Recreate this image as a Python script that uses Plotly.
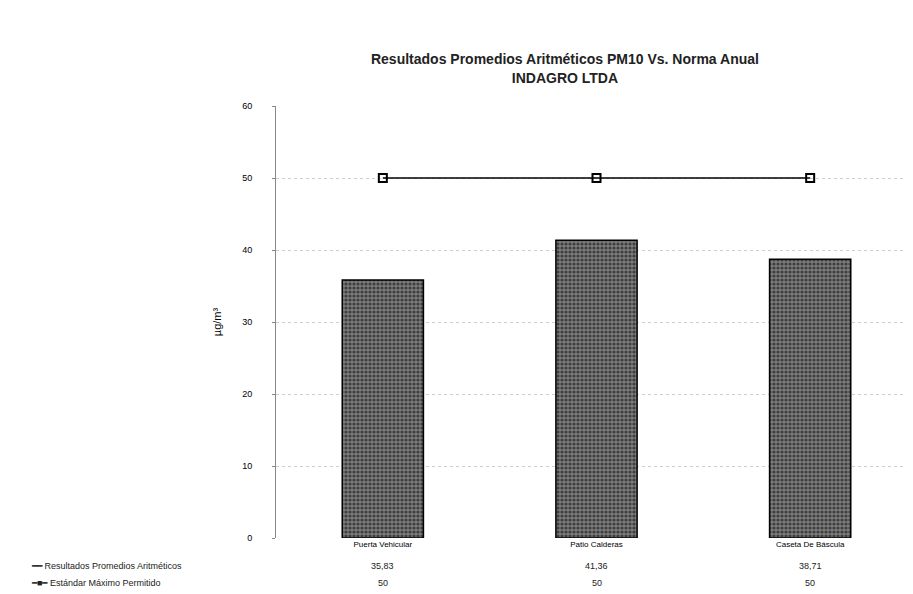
import plotly.graph_objects as go

estaciones = ["Puerta Vehicular", "Patio Calderas", "Caseta De Báscula"]
promedios = [35.83, 41.36, 38.71]
norma = [50, 50, 50]
y_ticks = [0, 10, 20, 30, 40, 50, 60]

serie_bar = "Resultados Promedios Aritméticos"
serie_linea = "Estándar Máximo Permitido"

fig = go.Figure()

fig.add_trace(go.Bar(
    x=estaciones,
    y=promedios,
    name=serie_bar,
    width=0.38,
    marker=dict(
        color="#555",
        line=dict(color="black", width=1.5),
        pattern=dict(shape=".", fgcolor="black", bgcolor="#7d7d7d", size=4, solidity=0.5),
    ),
))

fig.add_trace(go.Scatter(
    x=estaciones,
    y=norma,
    name=serie_linea,
    mode="lines+markers",
    line=dict(color="black", width=1.5),
    marker=dict(symbol="square-open", size=8, color="black", line=dict(width=2)),
))

fig.update_layout(
    width=913,
    height=594,
    template="plotly_white",
    showlegend=False,
    paper_bgcolor="white",
    plot_bgcolor="white",
    margin=dict(l=268, r=4, t=98, b=64),
    font=dict(family="Liberation Sans, Arial", color="black", size=10),
    title=dict(
        text="<b>Resultados Promedios Aritméticos PM10 Vs. Norma Anual<br>INDAGRO LTDA</b>",
        x=0.61, xanchor="center", y=0.905, yanchor="middle",
        font=dict(size=14, color="#222"),
    ),
    bargap=0.6,
)

fig.update_yaxes(
    range=[0, 60],
    tickvals=y_ticks,
    showgrid=True,
    gridcolor="#cfcfcf",
    griddash="dot",
    zeroline=False,
    showline=True,
    linecolor="#888",
    ticks="outside",
    ticklen=3,
    tickcolor="#888",
    tickfont=dict(size=9),
    ticklabelstandoff=18,
    title=dict(text="µg/m³", font=dict(size=11), standoff=18),
    fixedrange=True,
)

fig.update_xaxes(
    showgrid=False,
    showline=False,
    tickfont=dict(size=8),
    ticklabelstandoff=0,
    fixedrange=True,
)

# tabla de datos bajo el eje, como en la hoja de cálculo original
filas = [(serie_bar, promedios, "━━"), (serie_linea, norma, "━■━")]
for i, (nombre, valores, simbolo) in enumerate(filas):
    y_fila = -0.065 - i * 0.04
    fig.add_annotation(
        x=-0.385, y=y_fila, xref="paper", yref="paper",
        text=f"{simbolo} {nombre}", showarrow=False,
        xanchor="left", yanchor="middle", font=dict(size=9, color="#222"),
    )
    for est, v in zip(estaciones, valores):
        fig.add_annotation(
            x=est, y=y_fila, xref="x", yref="paper",
            text=f"{v:g}".replace(".", ","), showarrow=False,
            xanchor="center", yanchor="middle", font=dict(size=9, color="#222"),
        )

fig.write_html("out.html")
